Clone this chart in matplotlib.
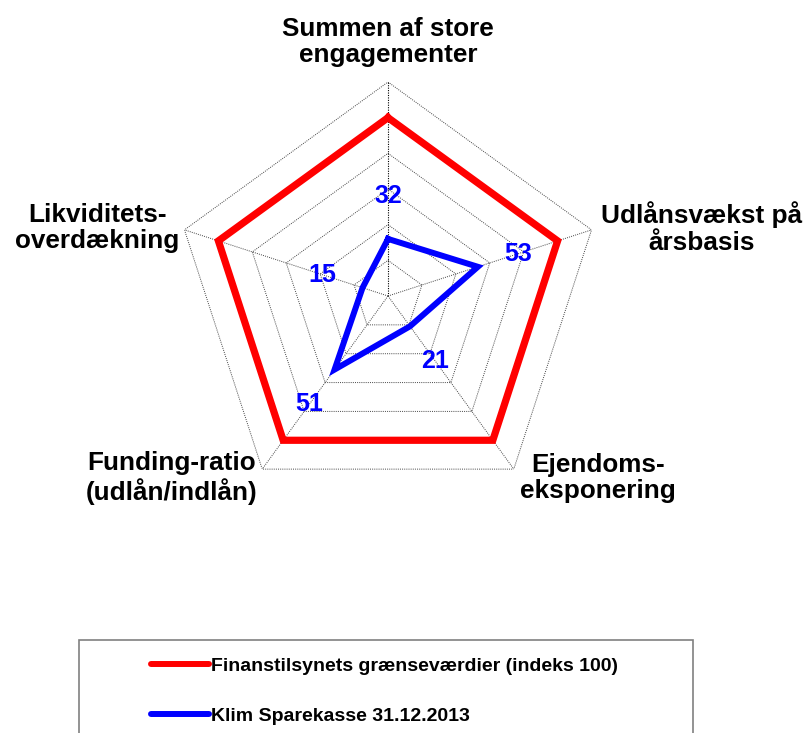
import numpy as np
import matplotlib
matplotlib.use("Agg")
import matplotlib.pyplot as plt
from matplotlib.patches import Rectangle

plt.rcParams['font.family'] = ['Liberation Sans', 'DejaVu Sans']
plt.rcParams['font.weight'] = 'bold'

categories = ["Summen af store\nengagementer", "Udlånsvækst på\nårsbasis",
              "Ejendoms-\neksponering", "Funding-ratio\n(udlån/indlån)",
              "Likviditets-\noverdækning"]
limit_values = [100, 100, 100, 100, 100]
bank_values = [32, 53, 21, 51, 15]
series_names = ["Finanstilsynets grænseværdier (indeks 100)", "Klim Sparekasse 31.12.2013"]
grid_levels = [20, 40, 60, 80, 100, 120]

W, H = 807, 733
fig = plt.figure(figsize=(W / 100, H / 100), dpi=100)
cx, cy, R = 388, 296, 214
ax = fig.add_axes([(cx - R) / W, 1 - (cy + R) / H, 2 * R / W, 2 * R / H], projection='polar')
ax.set_theta_offset(np.pi / 2)
ax.set_theta_direction(-1)
ax.set_ylim(0, 120)
ax.axis('off')

n = len(categories)
theta = np.arange(n) * 2 * np.pi / n
theta_c = np.append(theta, theta[0])

for lv in grid_levels:
    ax.plot(theta_c, [lv] * (n + 1), color='#444444', lw=0.7, ls=(0, (1, 1.2)), zorder=1)
for i, t in enumerate(theta):
    ax.plot([t, t], [0, 120], color='black' if i == 0 else '#444444', lw=0.8 if i == 0 else 0.7,
            ls=(0, (1, 1.2)), zorder=1)

l1, = ax.plot(theta_c, limit_values + limit_values[:1], color='#ff0000', lw=5.2, zorder=3,
              solid_joinstyle='miter')
l2, = ax.plot(theta_c, bank_values + bank_values[:1], color='#0000ff', lw=4.3, zorder=4,
              solid_joinstyle='miter')

for t, v in zip(theta, bank_values):
    ax.text(t, v + 24, str(v), color='#0000ff', fontsize=18, fontweight='bold',
            ha='center', va='center', zorder=5)

label_pos = [(388, 42), (702, 228), (598, 478), (172, 478), (97, 228)]
for (px, py), lab in zip(label_pos, categories):
    fig.text(px / W, 1 - py / H, lab, fontsize=18.8, fontweight='bold', ha='center', va='center',
             linespacing=1.12)

fig.patches.append(Rectangle((79 / W, 1 - 760 / H), (693 - 79) / W, (760 - 640) / H,
                             transform=fig.transFigure, fill=False, edgecolor='#808080', lw=1.2))
leg = fig.legend([l1, l2], series_names, loc='upper left', bbox_to_anchor=(151 / W, 1 - 657 / H),
                 frameon=False, fontsize=14, handlelength=3.0, handletextpad=0.1,
                 labelspacing=1.68, borderaxespad=0, borderpad=0)
for h in leg.get_lines():
    h.set_linewidth(4.3)
    h.set_solid_capstyle('round')

fig.savefig("out.png", dpi=100)
